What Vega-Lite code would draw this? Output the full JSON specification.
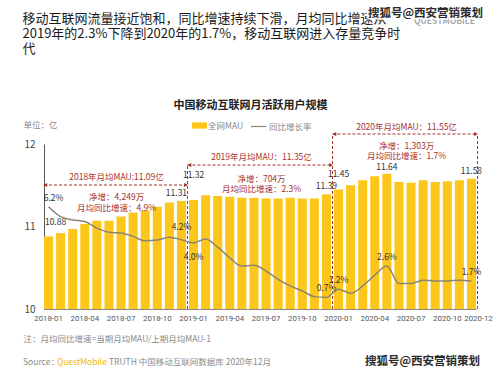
{
  "$schema": "https://vega.github.io/schema/vega-lite/v6.json",
  "width": 432,
  "height": 165,
  "autosize": {"type": "none"},
  "padding": {"left": 44, "top": 144, "right": 23, "bottom": 66},
  "background": "#ffffff",
  "config": {
    "font": "Noto Sans CJK SC",
    "view": {"stroke": null},
    "axis": {"grid": false, "labelFont": "Noto Sans CJK SC", "titleFont": "Noto Sans CJK SC"},
    "legend": {"labelFont": "Noto Sans CJK SC"},
    "text": {"font": "Noto Sans CJK SC"}
  },
  "datasets": {
    "monthly": [
      {"month": "2018-01", "mau": 10.88, "growth": 0.062},
      {"month": "2018-02", "mau": 10.92, "growth": 0.056},
      {"month": "2018-03", "mau": 10.97, "growth": 0.054},
      {"month": "2018-04", "mau": 11.03, "growth": 0.053},
      {"month": "2018-05", "mau": 11.07, "growth": 0.049},
      {"month": "2018-06", "mau": 11.07, "growth": 0.0465},
      {"month": "2018-07", "mau": 11.12, "growth": 0.046},
      {"month": "2018-08", "mau": 11.17, "growth": 0.044},
      {"month": "2018-09", "mau": 11.19, "growth": 0.0413},
      {"month": "2018-10", "mau": 11.24, "growth": 0.0418},
      {"month": "2018-11", "mau": 11.29, "growth": 0.0435},
      {"month": "2018-12", "mau": 11.31, "growth": 0.042},
      {"month": "2019-01", "mau": 11.32, "growth": 0.040},
      {"month": "2019-02", "mau": 11.38, "growth": 0.0425},
      {"month": "2019-03", "mau": 11.37, "growth": 0.0375},
      {"month": "2019-04", "mau": 11.36, "growth": 0.031},
      {"month": "2019-05", "mau": 11.35, "growth": 0.026},
      {"month": "2019-06", "mau": 11.35, "growth": 0.0265},
      {"month": "2019-07", "mau": 11.34, "growth": 0.023},
      {"month": "2019-08", "mau": 11.34, "growth": 0.018},
      {"month": "2019-09", "mau": 11.35, "growth": 0.014},
      {"month": "2019-10", "mau": 11.34, "growth": 0.011},
      {"month": "2019-11", "mau": 11.34, "growth": 0.0075},
      {"month": "2019-12", "mau": 11.39, "growth": 0.007},
      {"month": "2020-01", "mau": 11.45, "growth": 0.012},
      {"month": "2020-02", "mau": 11.50, "growth": 0.0095},
      {"month": "2020-03", "mau": 11.56, "growth": 0.014},
      {"month": "2020-04", "mau": 11.61, "growth": 0.0205},
      {"month": "2020-05", "mau": 11.64, "growth": 0.026},
      {"month": "2020-06", "mau": 11.54, "growth": 0.0155},
      {"month": "2020-07", "mau": 11.53, "growth": 0.0155},
      {"month": "2020-08", "mau": 11.56, "growth": 0.0175},
      {"month": "2020-09", "mau": 11.54, "growth": 0.017},
      {"month": "2020-10", "mau": 11.55, "growth": 0.017},
      {"month": "2020-11", "mau": 11.56, "growth": 0.0175},
      {"month": "2020-12", "mau": 11.58, "growth": 0.017}
    ],
    "periods": [
      {"year": "2018", "start": "2018-01", "mid": "2018-07", "end": "2018-12", "headline": "2018年月均MAU:11.09亿", "detail": ["净增：4,249万", "月均同比增速：4.9%"]},
      {"year": "2019", "start": "2019-01", "mid": "2019-07", "end": "2019-12", "headline": "2019年月均MAU：11.35亿", "detail": ["净增：704万", "月均同比增速：2.3%"]},
      {"year": "2020", "start": "2020-01", "mid": "2020-07", "end": "2020-12", "headline": "2020年月均MAU：11.55亿", "detail": ["净增：1,303万", "月均同比增速：1.7%"]}
    ]
  },
  "layer": [
    {
      "layer": [
        {
          "data": {"name": "monthly"},
          "mark": {"type": "bar"},
          "encoding": {
            "x": {
              "field": "month", "type": "ordinal",
              "scale": {"paddingInner": 0.25, "paddingOuter": 0},
              "axis": {
                "orient": "bottom",
                "values": ["2018-01", "2018-04", "2018-07", "2018-10", "2019-01", "2019-04", "2019-07", "2019-10", "2020-01", "2020-04", "2020-07", "2020-10", "2020-12"],
                "labelAngle": 0, "labelFont": "Roboto", "labelFontSize": 7.8, "labelColor": "#555555", "labelPadding": 5, "labelOverlap": false,
                "labelOffset": {"condition": {"test": "datum.value == '2020-12'", "value": 7}, "value": 0},
                "ticks": false, "domainColor": "#888888",
                "title": "注：月均同比增速=当期月均MAU/上期月均MAU-1",
                "titleFontSize": 8.5, "titleFontWeight": "normal", "titleColor": "#888888",
                "titleX": -21, "titleY": 29, "titleAlign": "left", "titleBaseline": "middle"
              }
            },
            "y": {
              "field": "mau", "type": "quantitative",
              "scale": {"domain": [10, 12], "nice": false, "zero": false},
              "axis": {
                "orient": "left", "values": [10, 11, 12], "format": ".0f", "ticks": false, "labelFontSize": 10, "labelColor": "#444444",
                "labelPadding": 9, "labelFlush": false, "labelOverlap": false, "labelBound": false, "domainColor": "#555555",
                "title": "单位：亿", "titleAngle": 0, "titleX": -21, "titleY": -20, "titleAlign": "left", "titleBaseline": "middle",
                "titleFontSize": 8.5, "titleFontWeight": "normal", "titleColor": "#888888"
              }
            },
            "y2": {"datum": 10},
            "fill": {
              "datum": "全网MAU", "type": "nominal",
              "scale": {"range": ["#FCC71A"]},
              "legend": {
                "orient": "none", "legendX": 148, "legendY": -26, "title": null, "padding": 0,
                "symbolType": "M-1,-0.42H1V0.42H-1Z", "symbolSize": 225, "symbolStrokeWidth": 0,
                "labelFontSize": 8.5, "labelColor": "#888888", "labelOffset": 1
              }
            }
          }
        },
        {
          "data": {"name": "monthly"},
          "transform": [{"filter": {"field": "month", "oneOf": ["2019-12", "2020-12"]}}],
          "mark": {"type": "text", "dy": -8, "fontSize": 8.5, "color": "#333333"},
          "encoding": {
            "x": {"field": "month", "type": "ordinal"},
            "y": {"field": "mau", "type": "quantitative", "scale": {"domain": [10, 12]}},
            "text": {"field": "mau", "type": "quantitative", "format": ".2f"}
          }
        },
        {
          "data": {"name": "monthly"},
          "transform": [{"filter": {"field": "month", "oneOf": ["2020-05"]}}],
          "mark": {"type": "text", "dy": -7, "fontSize": 8.5, "color": "#333333"},
          "encoding": {
            "x": {"field": "month", "type": "ordinal"},
            "y": {"field": "mau", "type": "quantitative", "scale": {"domain": [10, 12]}},
            "text": {"field": "mau", "type": "quantitative", "format": ".2f"}
          }
        },
        {
          "data": {"name": "monthly"},
          "transform": [{"filter": {"field": "month", "oneOf": ["2018-12"]}}],
          "mark": {"type": "text", "dy": -8, "dx": -5, "fontSize": 8.5, "color": "#333333"},
          "encoding": {
            "x": {"field": "month", "type": "ordinal"},
            "y": {"field": "mau", "type": "quantitative", "scale": {"domain": [10, 12]}},
            "text": {"field": "mau", "type": "quantitative", "format": ".2f"}
          }
        },
        {
          "data": {"name": "monthly"},
          "transform": [{"filter": {"field": "month", "oneOf": ["2020-01"]}}],
          "mark": {"type": "text", "dy": -15, "fontSize": 8.5, "color": "#333333"},
          "encoding": {
            "x": {"field": "month", "type": "ordinal"},
            "y": {"field": "mau", "type": "quantitative", "scale": {"domain": [10, 12]}},
            "text": {"field": "mau", "type": "quantitative", "format": ".2f"}
          }
        },
        {
          "data": {"name": "monthly"},
          "transform": [{"filter": {"field": "month", "oneOf": ["2019-01"]}}],
          "mark": {"type": "text", "dy": -25, "fontSize": 8.5, "color": "#333333"},
          "encoding": {
            "x": {"field": "month", "type": "ordinal"},
            "y": {"field": "mau", "type": "quantitative", "scale": {"domain": [10, 12]}},
            "text": {"field": "mau", "type": "quantitative", "format": ".2f"}
          }
        },
        {
          "data": {"name": "monthly"},
          "transform": [{"filter": {"field": "month", "oneOf": ["2018-01"]}}],
          "mark": {"type": "text", "dy": -14, "dx": 7, "fontSize": 8.5, "color": "#333333"},
          "encoding": {
            "x": {"field": "month", "type": "ordinal"},
            "y": {"field": "mau", "type": "quantitative", "scale": {"domain": [10, 12]}},
            "text": {"field": "mau", "type": "quantitative", "format": ".2f"}
          }
        },

        {
          "data": {"name": "periods"}, "transform": [{"filter": "datum.year == '2018'"}],
          "mark": {"type": "text", "fontSize": 8.5, "color": "#A8302C"},
          "encoding": {
            "x": {"field": "mid", "type": "ordinal", "bandPosition": 0},
            "y": {"datum": 11.6, "type": "quantitative", "scale": {"domain": [10, 12]}},
            "text": {"field": "headline"}
          }
        },
        {
          "data": {"name": "periods"}, "transform": [{"filter": "datum.year == '2018'"}],
          "mark": {"type": "text", "fontSize": 8.5, "color": "#A8302C", "lineHeight": 11.5, "baseline": "middle"},
          "encoding": {
            "x": {"field": "mid", "type": "ordinal", "bandPosition": 0},
            "y": {"datum": 11.358, "type": "quantitative", "scale": {"domain": [10, 12]}},
            "text": {"field": "detail"}
          }
        },
        {
          "data": {"name": "periods"}, "transform": [{"filter": "datum.year == '2018'"}],
          "mark": {"type": "rule", "color": "#A8302C", "strokeDash": [3, 2], "strokeWidth": 1},
          "encoding": {
            "x": {"field": "start", "type": "ordinal", "bandPosition": 0},
            "x2": {"field": "end", "bandPosition": 1.17},
            "y": {"datum": 11.503, "type": "quantitative", "scale": {"domain": [10, 12]}}
          }
        },
        {
          "data": {"name": "periods"}, "transform": [{"filter": "datum.year == '2018'"}],
          "mark": {"type": "point", "shape": "triangle-left", "filled": true, "size": 18, "color": "#A8302C", "opacity": 1},
          "encoding": {
            "x": {"field": "start", "type": "ordinal", "bandPosition": 0.15},
            "y": {"datum": 11.503, "type": "quantitative", "scale": {"domain": [10, 12]}}
          }
        },
        {
          "data": {"name": "periods"}, "transform": [{"filter": "datum.year == '2018'"}],
          "mark": {"type": "point", "shape": "triangle-right", "filled": true, "size": 18, "color": "#A8302C", "opacity": 1},
          "encoding": {
            "x": {"field": "end", "type": "ordinal", "bandPosition": 1.0},
            "y": {"datum": 11.503, "type": "quantitative", "scale": {"domain": [10, 12]}}
          }
        },
        {
          "data": {"name": "periods"}, "transform": [{"filter": "datum.year == '2018'"}],
          "mark": {"type": "rule", "color": "#A8302C", "strokeDash": [3, 2], "strokeWidth": 1},
          "encoding": {
            "x": {"field": "end", "type": "ordinal", "bandPosition": 1.17},
            "y": {"datum": 10, "type": "quantitative", "scale": {"domain": [10, 12]}},
            "y2": {"datum": 11.745}
          }
        },

        {
          "data": {"name": "periods"}, "transform": [{"filter": "datum.year == '2019'"}],
          "mark": {"type": "text", "fontSize": 8.5, "color": "#A8302C"},
          "encoding": {
            "x": {"field": "mid", "type": "ordinal", "bandPosition": 0},
            "y": {"datum": 11.842, "type": "quantitative", "scale": {"domain": [10, 12]}},
            "text": {"field": "headline"}
          }
        },
        {
          "data": {"name": "periods"}, "transform": [{"filter": "datum.year == '2019'"}],
          "mark": {"type": "text", "fontSize": 8.5, "color": "#A8302C", "lineHeight": 9.8, "baseline": "middle"},
          "encoding": {
            "x": {"field": "mid", "type": "ordinal", "bandPosition": 0},
            "y": {"datum": 11.576, "type": "quantitative", "scale": {"domain": [10, 12]}},
            "text": {"field": "detail"}
          }
        },
        {
          "data": {"name": "periods"}, "transform": [{"filter": "datum.year == '2019'"}],
          "mark": {"type": "rule", "color": "#A8302C", "strokeDash": [3, 2], "strokeWidth": 1},
          "encoding": {
            "x": {"field": "start", "type": "ordinal", "bandPosition": -0.17},
            "x2": {"field": "end", "bandPosition": 1.17},
            "y": {"datum": 11.745, "type": "quantitative", "scale": {"domain": [10, 12]}}
          }
        },
        {
          "data": {"name": "periods"}, "transform": [{"filter": "datum.year == '2019'"}],
          "mark": {"type": "point", "shape": "triangle-left", "filled": true, "size": 18, "color": "#A8302C", "opacity": 1},
          "encoding": {
            "x": {"field": "start", "type": "ordinal", "bandPosition": 0.05},
            "y": {"datum": 11.745, "type": "quantitative", "scale": {"domain": [10, 12]}}
          }
        },
        {
          "data": {"name": "periods"}, "transform": [{"filter": "datum.year == '2019'"}],
          "mark": {"type": "point", "shape": "triangle-right", "filled": true, "size": 18, "color": "#A8302C", "opacity": 1},
          "encoding": {
            "x": {"field": "end", "type": "ordinal", "bandPosition": 1.0},
            "y": {"datum": 11.745, "type": "quantitative", "scale": {"domain": [10, 12]}}
          }
        },
        {
          "data": {"name": "periods"}, "transform": [{"filter": "datum.year == '2019'"}],
          "mark": {"type": "rule", "color": "#A8302C", "strokeDash": [3, 2], "strokeWidth": 1},
          "encoding": {
            "x": {"field": "end", "type": "ordinal", "bandPosition": 1.17},
            "y": {"datum": 10, "type": "quantitative", "scale": {"domain": [10, 12]}},
            "y2": {"datum": 12.121}
          }
        },

        {
          "data": {"name": "periods"}, "transform": [{"filter": "datum.year == '2020'"}],
          "mark": {"type": "text", "fontSize": 8.5, "color": "#A8302C"},
          "encoding": {
            "x": {"field": "mid", "type": "ordinal", "bandPosition": 0},
            "y": {"datum": 12.206, "type": "quantitative", "scale": {"domain": [10, 12]}},
            "text": {"field": "headline"}
          }
        },
        {
          "data": {"name": "periods"}, "transform": [{"filter": "datum.year == '2020'"}],
          "mark": {"type": "text", "fontSize": 8.5, "color": "#A8302C", "lineHeight": 9.6, "baseline": "middle"},
          "encoding": {
            "x": {"field": "mid", "type": "ordinal", "bandPosition": 0},
            "y": {"datum": 11.976, "type": "quantitative", "scale": {"domain": [10, 12]}},
            "text": {"field": "detail"}
          }
        },
        {
          "data": {"name": "periods"}, "transform": [{"filter": "datum.year == '2020'"}],
          "mark": {"type": "rule", "color": "#A8302C", "strokeDash": [3, 2], "strokeWidth": 1},
          "encoding": {
            "x": {"field": "start", "type": "ordinal", "bandPosition": -0.17},
            "x2": {"field": "end", "bandPosition": 1.17},
            "y": {"datum": 12.121, "type": "quantitative", "scale": {"domain": [10, 12]}}
          }
        },
        {
          "data": {"name": "periods"}, "transform": [{"filter": "datum.year == '2020'"}],
          "mark": {"type": "point", "shape": "triangle-left", "filled": true, "size": 18, "color": "#A8302C", "opacity": 1},
          "encoding": {
            "x": {"field": "start", "type": "ordinal", "bandPosition": 0.05},
            "y": {"datum": 12.121, "type": "quantitative", "scale": {"domain": [10, 12]}}
          }
        },
        {
          "data": {"name": "periods"}, "transform": [{"filter": "datum.year == '2020'"}],
          "mark": {"type": "point", "shape": "triangle-right", "filled": true, "size": 18, "color": "#A8302C", "opacity": 1},
          "encoding": {
            "x": {"field": "end", "type": "ordinal", "bandPosition": 1.0},
            "y": {"datum": 12.121, "type": "quantitative", "scale": {"domain": [10, 12]}}
          }
        },
        {
          "data": {"name": "periods"}, "transform": [{"filter": "datum.year == '2020'"}],
          "mark": {"type": "rule", "color": "#A8302C", "strokeDash": [3, 2], "strokeWidth": 1},
          "encoding": {
            "x": {"field": "end", "type": "ordinal", "bandPosition": 1.17},
            "y": {"datum": 10, "type": "quantitative", "scale": {"domain": [10, 12]}},
            "y2": {"datum": 12.121}
          }
        },

        {
          "data": {"values": [{"label": "Source："}]},
          "mark": {"type": "text", "align": "left", "dx": -21, "fontSize": 8.5, "color": "#8c8c8c"},
          "encoding": {
            "x": {"datum": "2018-01", "type": "ordinal", "bandPosition": 0},
            "y": {"datum": 9.358, "type": "quantitative", "scale": {"domain": [10, 12]}},
            "text": {"field": "label"}
          }
        },
        {
          "data": {"values": [{"label": "QuestMobile"}]},
          "mark": {"type": "text", "align": "left", "dx": 13, "fontSize": 8.5, "color": "#F2B800"},
          "encoding": {
            "x": {"datum": "2018-01", "type": "ordinal", "bandPosition": 0},
            "y": {"datum": 9.358, "type": "quantitative", "scale": {"domain": [10, 12]}},
            "text": {"field": "label"}
          }
        },
        {
          "data": {"values": [{"label": "TRUTH 中国移动互联网数据库 2020年12月"}]},
          "mark": {"type": "text", "align": "left", "dx": 65, "fontSize": 8.5, "color": "#8c8c8c"},
          "encoding": {
            "x": {"datum": "2018-01", "type": "ordinal", "bandPosition": 0},
            "y": {"datum": 9.358, "type": "quantitative", "scale": {"domain": [10, 12]}},
            "text": {"field": "label"}
          }
        },
        {
          "data": {"values": [{"label": "搜狐号@西安营销策划"}]},
          "mark": {"type": "text", "align": "right", "dx": 4, "fontSize": 11.5, "fontWeight": "bold", "color": "#2a2a2a"},
          "encoding": {
            "x": {"datum": "2020-12", "type": "ordinal", "bandPosition": 1},
            "y": {"datum": 9.358, "type": "quantitative", "scale": {"domain": [10, 12]}},
            "text": {"field": "label"}
          }
        }
      ]
    },
    {
      "layer": [
        {
          "data": {"name": "monthly"},
          "mark": {"type": "line", "interpolate": "monotone", "strokeWidth": 1.5},
          "encoding": {
            "x": {
              "field": "month", "type": "ordinal",
              "axis": {
                "orient": "top", "labels": false, "ticks": false, "domain": false,
                "title": "中国移动互联网月活跃用户规模", "titleFontSize": 11, "titleFontWeight": "bold", "titleColor": "#222222",
                "titleX": 206, "titleY": -39, "titleAlign": "center", "titleBaseline": "middle"
              }
            },
            "y": {
              "field": "growth", "type": "quantitative",
              "scale": {"domain": [0, 0.1], "nice": false},
              "axis": {
                "orient": "right", "labels": false, "ticks": false, "domain": false, "grid": false,
                "title": ["移动互联网流量接近饱和，同比增速持续下滑，月均同比增速从", "2019年的2.3%下降到2020年的1.7%，移动互联网进入存量竞争时", "代"],
                "titleAngle": 0, "titleX": -454, "titleY": -132, "titleAlign": "left", "titleBaseline": "top",
                "titleFontSize": 13, "titleFontWeight": "normal", "titleColor": "#1a1a1a", "titleLineHeight": 15
              }
            },
            "stroke": {
              "datum": "同比增长率", "type": "nominal",
              "scale": {"range": ["#8A8575"]},
              "legend": {
                "orient": "none", "legendX": 206, "legendY": -26, "title": null, "padding": 0,
                "symbolType": "stroke", "symbolSize": 225, "symbolStrokeWidth": 1.2,
                "labelFontSize": 8.5, "labelColor": "#888888", "labelOffset": 2
              }
            }
          }
        },
        {
          "data": {"name": "monthly"},
          "transform": [{"filter": {"field": "month", "oneOf": ["2019-12", "2020-01", "2020-05", "2020-12"]}}],
          "mark": {"type": "text", "dy": -9, "fontSize": 8.5, "color": "#333333"},
          "encoding": {
            "x": {"field": "month", "type": "ordinal"},
            "y": {"field": "growth", "type": "quantitative", "scale": {"domain": [0, 0.1]}},
            "text": {"field": "growth", "type": "quantitative", "format": ".1%"}
          }
        },
        {
          "data": {"name": "monthly"},
          "transform": [{"filter": {"field": "month", "oneOf": ["2018-01"]}}],
          "mark": {"type": "text", "dy": -9, "dx": 5, "fontSize": 8.5, "color": "#333333"},
          "encoding": {
            "x": {"field": "month", "type": "ordinal"},
            "y": {"field": "growth", "type": "quantitative", "scale": {"domain": [0, 0.1]}},
            "text": {"field": "growth", "type": "quantitative", "format": ".1%"}
          }
        },
        {
          "data": {"name": "monthly"},
          "transform": [{"filter": {"field": "month", "oneOf": ["2018-12"]}}],
          "mark": {"type": "text", "dy": -13, "fontSize": 8.5, "color": "#333333"},
          "encoding": {
            "x": {"field": "month", "type": "ordinal"},
            "y": {"field": "growth", "type": "quantitative", "scale": {"domain": [0, 0.1]}},
            "text": {"field": "growth", "type": "quantitative", "format": ".1%"}
          }
        },
        {
          "data": {"name": "monthly"},
          "transform": [{"filter": {"field": "month", "oneOf": ["2019-01"]}}],
          "mark": {"type": "text", "dy": 14, "fontSize": 8.5, "color": "#333333"},
          "encoding": {
            "x": {"field": "month", "type": "ordinal"},
            "y": {"field": "growth", "type": "quantitative", "scale": {"domain": [0, 0.1]}},
            "text": {"field": "growth", "type": "quantitative", "format": ".1%"}
          }
        },
        {
          "data": {"values": [{"label": "QUESTMOBILE"}]},
          "mark": {"type": "text", "align": "right", "dx": -1, "fontSize": 8.5, "fontWeight": "bold", "color": "#a8a8a8"},
          "encoding": {
            "x": {"datum": "2020-12", "type": "ordinal", "bandPosition": 1},
            "y": {"datum": 0.1744, "type": "quantitative", "scale": {"domain": [0, 0.1]}},
            "text": {"field": "label"}
          }
        },
        {
          "data": {"values": [{"label": "搜狐号@西安营销策划"}]},
          "mark": {"type": "text", "align": "right", "dx": 7, "fontSize": 11.5, "fontWeight": "bold", "color": "#ffffff", "stroke": "#ffffff", "strokeWidth": 3},
          "encoding": {
            "x": {"datum": "2020-12", "type": "ordinal", "bandPosition": 1},
            "y": {"datum": 0.1788, "type": "quantitative", "scale": {"domain": [0, 0.1]}},
            "text": {"field": "label"}
          }
        },
        {
          "data": {"values": [{"label": "搜狐号@西安营销策划"}]},
          "mark": {"type": "text", "align": "right", "dx": 7, "fontSize": 11.5, "fontWeight": "bold", "color": "#2a2a2a"},
          "encoding": {
            "x": {"datum": "2020-12", "type": "ordinal", "bandPosition": 1},
            "y": {"datum": 0.1788, "type": "quantitative", "scale": {"domain": [0, 0.1]}},
            "text": {"field": "label"}
          }
        }
      ]
    }
  ],
  "resolve": {"scale": {"y": "independent"}, "axis": {"x": "independent"}}
}
